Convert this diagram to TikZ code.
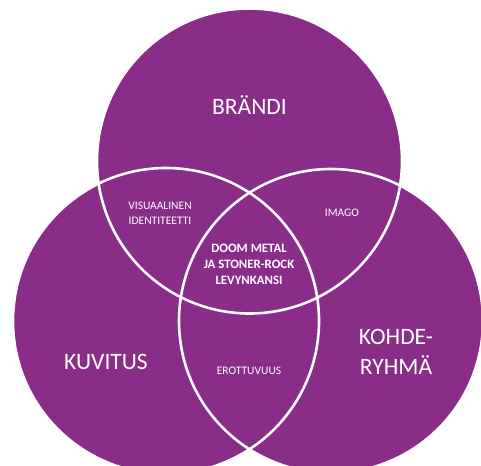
\documentclass[tikz,border=0pt]{standalone}
\usepackage{fontspec}
\setmainfont{Carlito}
\definecolor{vpurple}{RGB}{137,45,137}
\begin{document}
\begin{tikzpicture}[x=1pt,y=-1pt,
  ring/.style={draw=white,line width=2.6pt},
  big/.style={text=white,font=\fontsize{23.5}{30}\selectfont,align=center},
  small/.style={text=white,font=\fontsize{11.5}{15}\selectfont,align=center},
  core/.style={text=white,font=\bfseries\fontsize{12.8}{16}\selectfont,align=center}]
\useasboundingbox (0,0) rectangle (481,465);
\fill[white] (0,0) rectangle (481,465);
\coordinate (ct) at (249.5,161);
\coordinate (cl) at (166,321);
\coordinate (cr) at (331,321);
\fill[vpurple] (ct) circle[radius=152.5];
\fill[vpurple] (cl) circle[radius=153];
\fill[vpurple] (cr) circle[radius=152];
\draw[ring] (ct) circle[radius=152.5];
\draw[ring] (cl) circle[radius=153];
\draw[ring] (cr) circle[radius=152];
\node[big] (brandi) at (249.5,105) {BRÄNDI};
\node[big] (kuvitus) at (106,362) {KUVITUS};
\node[big] (kohde) at (396,352) {KOHDE-\\RYHMÄ};
\node[small] (visu) at (160,213) {VISUAALINEN\\IDENTITEETTI};
\node[small] (imago) at (342,213) {IMAGO};
\node[core] (doom) at (249,264) {DOOM METAL\\JA STONER-ROCK\\LEVYNKANSI};
\node[small] (erot) at (249,371) {EROTTUVUUS};
\end{tikzpicture}
\end{document}
